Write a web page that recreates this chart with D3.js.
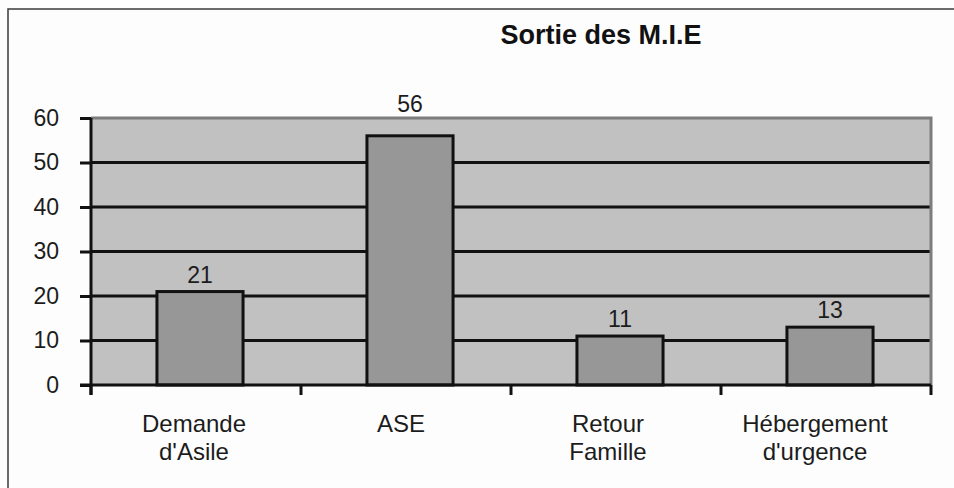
<!DOCTYPE html>
<html>
<head>
<meta charset="utf-8">
<script src="https://cdn.jsdelivr.net/npm/d3@7"></script>
<style>
  html, body { margin: 0; padding: 0; background: #fdfdfd; }
  svg { display: block; font-family: Arial, "Liberation Sans", sans-serif; }
</style>
</head>
<body>
<div id="chart"></div>
<script>
// chart data
const categories = ["Demande d'Asile", "ASE", "Retour Famille", "Hébergement d'urgence"];
const labelLines = [["Demande", "d'Asile"], ["ASE"], ["Retour", "Famille"], ["Hébergement", "d'urgence"]];
const values = [21, 56, 11, 13];
const yTicks = [0, 10, 20, 30, 40, 50, 60];
const title = "Sortie des M.I.E";

const W = 954, H = 488;
const plot = {left: 91, right: 931, top: 118, bottom: 385};

const svg = d3.select("#chart")
    .append("svg")
    .attr("width", W)
    .attr("height", H);

// outer frame
svg.append("rect")
    .attr("x", 8).attr("y", 9)
    .attr("width", W + 20).attr("height", H + 20)
    .attr("fill", "#fdfdfd")
    .attr("stroke", "#3a3a3a")
    .attr("stroke-width", 1.5);

// bars sit a few px right of the slot centres in the scan
const x = d3.scaleBand()
    .domain(categories)
    .range([plot.left + 4, plot.right + 4])
    .paddingInner(0.59)
    .paddingOuter(0.295);

const slot = d3.scaleBand()
    .domain(categories)
    .range([plot.left, plot.right]);

const y = d3.scaleLinear()
    .domain([0, 60])
    .range([plot.bottom, plot.top]);

// plot background
svg.append("rect")
    .attr("x", plot.left).attr("y", plot.top)
    .attr("width", plot.right - plot.left)
    .attr("height", plot.bottom - plot.top)
    .attr("fill", "#c1c1c1");

// gridlines
svg.append("g")
    .selectAll("line")
    .data(yTicks.filter(t => t > 0 && t < 60))
    .enter()
    .append("line")
    .attr("x1", plot.left).attr("x2", plot.right)
    .attr("y1", d => y(d)).attr("y2", d => y(d))
    .attr("stroke", "#111")
    .attr("stroke-width", 3);

// top and right border of plot (gray)
svg.append("path")
    .attr("d", `M${plot.left},${y(60)}H${plot.right}V${plot.bottom}`)
    .attr("fill", "none")
    .attr("stroke", "#7d7d7d")
    .attr("stroke-width", 3);

// bars
svg.append("g")
    .selectAll("rect")
    .data(values)
    .enter()
    .append("rect")
    .attr("x", (d, i) => x(categories[i]))
    .attr("y", d => y(d))
    .attr("width", x.bandwidth())
    .attr("height", d => y(0) - y(d))
    .attr("fill", "#979797")
    .attr("stroke", "#111")
    .attr("stroke-width", 3);

// value labels, pushed above the plot frame when they would hit it
const labelY = d => {
    const ly = y(d) - 9;
    return ly < y(60) + 18 ? y(60) - 6 : ly;
};
svg.append("g")
    .selectAll("text")
    .data(values)
    .enter()
    .append("text")
    .attr("x", (d, i) => x(categories[i]) + x.bandwidth() / 2)
    .attr("y", d => labelY(d))
    .attr("text-anchor", "middle")
    .attr("font-size", 23)
    .attr("fill", "#1c1c1c")
    .text(d => d);

// y axis
const yAxis = svg.append("g")
    .attr("transform", `translate(${plot.left},0)`)
    .call(d3.axisLeft(y).tickValues(yTicks).tickSize(11).tickPadding(21).tickFormat(d3.format("d")));
yAxis.select(".domain").attr("stroke", "#111").attr("stroke-width", 3)
    .attr("d", `M0,${plot.top}V${plot.bottom + 10}`);
yAxis.selectAll(".tick line").attr("stroke", "#111").attr("stroke-width", 3);
yAxis.selectAll(".tick text")
    .attr("font-size", 23)
    .attr("fill", "#1c1c1c")
    .attr("font-family", "Arial, 'Liberation Sans', sans-serif");

// x axis line and boundary ticks
const bounds = categories.map(c => slot(c)).concat([plot.right]);
svg.append("line")
    .attr("x1", plot.left - 11).attr("x2", plot.right)
    .attr("y1", y(0)).attr("y2", y(0))
    .attr("stroke", "#111").attr("stroke-width", 3);
svg.append("g")
    .selectAll("line")
    .data(bounds)
    .enter()
    .append("line")
    .attr("x1", d => d).attr("x2", d => d)
    .attr("y1", y(0)).attr("y2", y(0) + 10)
    .attr("stroke", "#111").attr("stroke-width", 3);

// category labels
const catText = svg.append("g")
    .selectAll("text")
    .data(categories)
    .enter()
    .append("text")
    .attr("x", (d, i) => slot(d) + slot.bandwidth() / 2 - 2 - 3 * i)
    .attr("y", 432)
    .attr("text-anchor", "middle")
    .attr("font-size", 24)
    .attr("fill", "#1c1c1c");
catText.selectAll("tspan")
    .data((d, i) => labelLines[i])
    .enter()
    .append("tspan")
    .attr("x", function () { return d3.select(this.parentNode).attr("x"); })
    .attr("dy", (d, i) => i === 0 ? 0 : 28)
    .text(d => d);

// title
svg.append("text")
    .attr("x", 601)
    .attr("y", 44)
    .attr("text-anchor", "middle")
    .attr("font-size", 27)
    .attr("font-weight", "bold")
    .attr("fill", "#111")
    .text(title);
</script>
</body>
</html>
